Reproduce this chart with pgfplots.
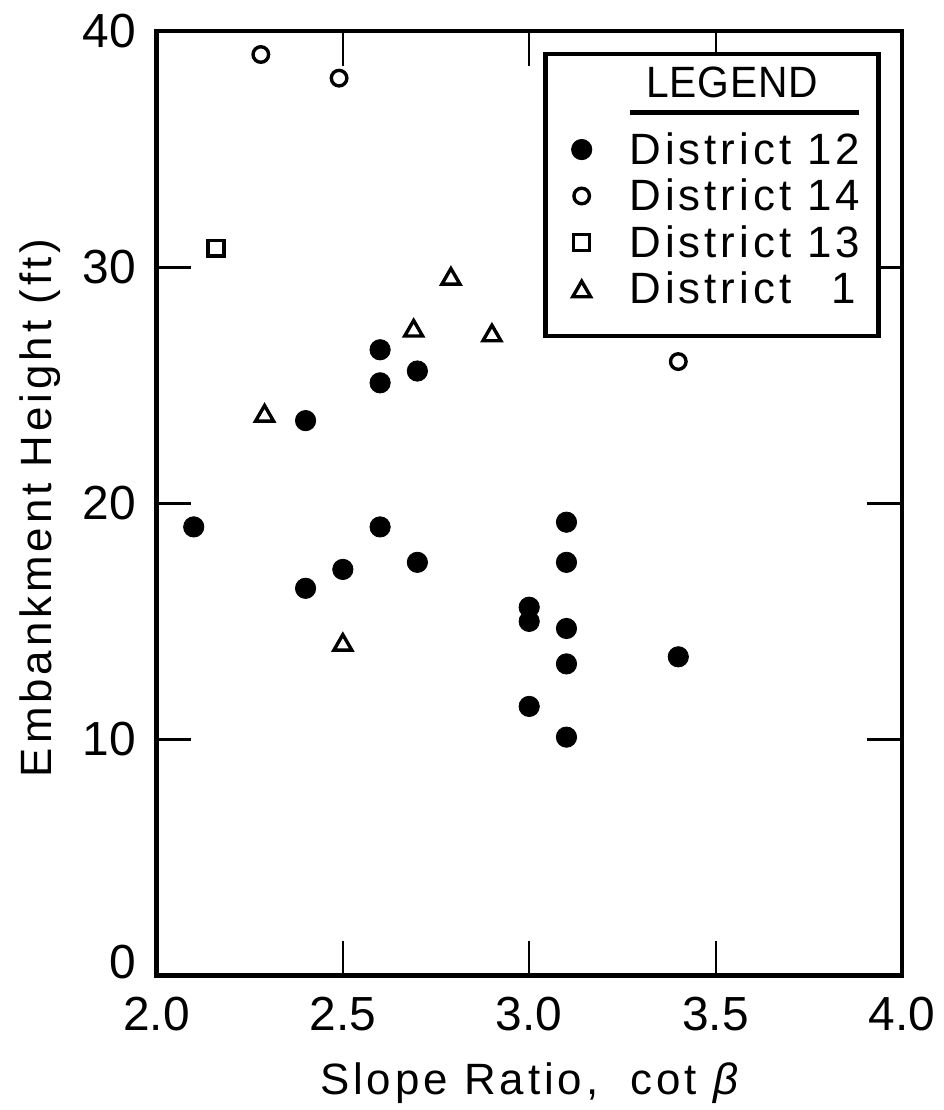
\documentclass[border=0pt]{standalone}
\usepackage{fontspec}
\setmainfont{Liberation Sans}[LetterSpace=9]
\usepackage{graphicx}
\usepackage{pgfplots}
\pgfplotsset{compat=1.18}

% Embankment data: slope ratio (cot beta) vs. embankment height (ft)
\pgfplotstableread{
x   y
2.1 19.0
2.4 23.5
2.4 16.4
2.5 17.2
2.6 19.0
2.7 17.5
2.6 26.5
2.6 25.1
2.7 25.6
3.0 15.6
3.0 15.0
3.1 19.2
3.1 17.5
3.1 14.7
3.1 13.2
3.0 11.4
3.1 10.1
3.4 13.5
}\districttwelve
\pgfplotstableread{
x   y
2.28 39.0
2.49 38.0
3.40 26.0
}\districtfourteen
\pgfplotstableread{
x    y
2.16 30.8
}\districtthirteen
\pgfplotstableread{
x    y
2.29 23.7
2.50 14.0
2.69 27.3
2.79 29.5
2.90 27.1
}\districtone

\newcommand{\ticknumfont}{\fontsize{24}{28}\selectfont\addfontfeature{LetterSpace=0}}

\begin{document}
\begin{tikzpicture}[font=\fontsize{22}{26}\selectfont]
\begin{axis}[
  scale only axis,
  width=374pt, height=474pt,
  xmin=2, xmax=4, ymin=0, ymax=40,
  xtick={2,2.5,3,3.5,4},
  ytick={10,20,30,40},
  extra y ticks={0},
  extra y tick style={yticklabel style={yshift=7pt}},
  tick align=inside,
  major tick length=17.5pt,
  axis line style={line width=2.2pt},
  xtick style={line width=1pt, black},
  ytick style={line width=1.5pt, black},
  /pgf/number format/assume math mode=true,
  xticklabel style={font=\ticknumfont, inner ysep=10.5pt,
    /pgf/number format/.cd, fixed, fixed zerofill, precision=1},
  yticklabel style={font=\ticknumfont, inner xsep=10pt},
  xlabel={Slope Ratio,\ \ cot {\itshape β}},
  ylabel={Embankment Height (ft)},
  xlabel style={at={(axis description cs:0.5,-0.1255)}, anchor=base},
  ylabel style={at={(axis description cs:-0.1404,0.495)}, anchor=base},
  legend cell align=left,
  legend style={
    at={(axis description cs:0.519,0.978)}, anchor=north west,
    draw=black, line width=2.4pt,
    inner xsep=7pt, inner ysep=5.75pt,
    column sep=17pt,
    nodes={text height=15.5pt, text depth=7.8pt, inner ysep=0pt},
  },
  every legend image post/.append style={xshift=2.5pt, yshift=3.5pt},
]
\addlegendimage{empty legend}
\addlegendentry[text height=16pt, text depth=18pt]{%
  \makebox[115pt]{\scalebox{0.93}[1]{\addfontfeature{LetterSpace=2}LEGEND}\hspace{12pt}}%
  \llap{\rule[-8.6pt]{115pt}{2.2pt}}}

\addplot[only marks, mark=*, mark size=5.1pt,
  mark options={fill=black, draw=black, line width=0.4pt}]
  table[x=x, y=y] {\districttwelve};
\addlegendentry{District 12}

\addplot[only marks, mark=o, mark size=3.9pt,
  mark options={draw=black, line width=1.7pt}]
  table[x=x, y=y] {\districtfourteen};
\addlegendentry{District 14}

\addplot[only marks, mark=square, mark size=4pt,
  mark options={draw=black, line width=1.7pt}]
  table[x=x, y=y] {\districtthirteen};
\addlegendentry{District 13}

\addplot[only marks, mark=triangle, mark size=5.2pt,
  mark options={draw=black, line width=1.7pt}]
  table[x=x, y=y] {\districtone};
\addlegendentry[text depth=10.55pt]{District \phantom{1}1}
\end{axis}
% page extent around the axis box
\path ([xshift=-78.5pt, yshift=-65.5pt]current axis.south west)
  rectangle ([xshift=21pt, yshift=15.5pt]current axis.north east);
\end{tikzpicture}
\end{document}
